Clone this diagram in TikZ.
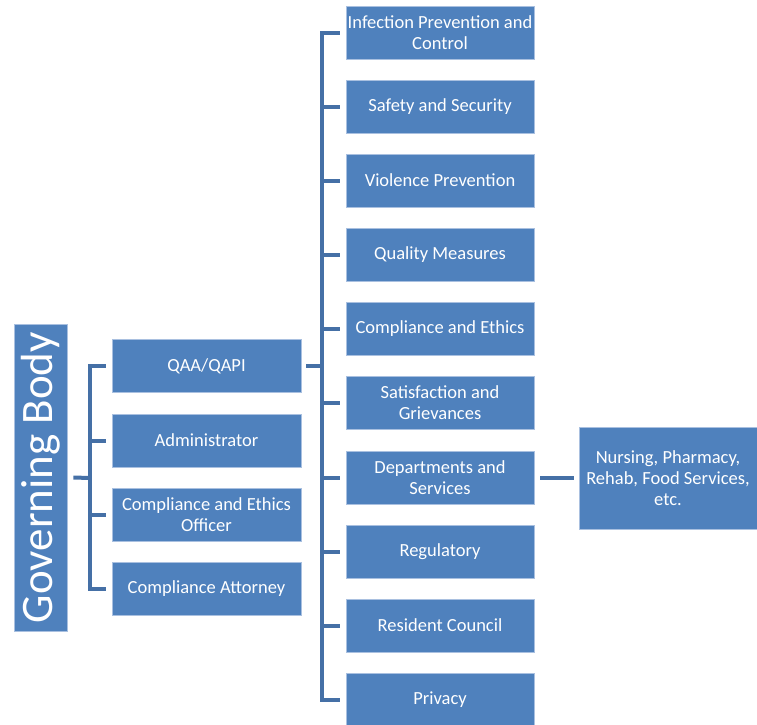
\documentclass[tikz,border=0pt]{standalone}
\usepackage{fontspec}
\setmainfont{Carlito}
\definecolor{boxfill}{HTML}{4F81BD}
\definecolor{boxline}{HTML}{A9C0E0}
\definecolor{connc}{HTML}{4570A6}
\tikzset{
  orgbox/.style={draw=boxline, line width=0.8pt, fill=boxfill, text=white, align=center,
    inner xsep=0pt, inner ysep=1pt, font=\fontsize{18.5}{21}\selectfont},
  leftbox/.style={orgbox, minimum width=189pt, minimum height=53pt},
  rightbox/.style={orgbox, minimum width=188pt, minimum height=53pt},
  conn/.style={draw=connc, line width=4pt, line join=miter}
}
\begin{document}
\begin{tikzpicture}[x=1pt,y=-1pt]
\useasboundingbox (0,0) rectangle (757,724);
% Governing body
\node[orgbox, minimum width=307pt, minimum height=53pt, inner sep=0pt, font=\fontsize{45}{50}\selectfont, rotate=90] (gb) at (40.5,477.5) {Governing Body};
% left column
\node[leftbox] (qaa) at (206.5,366) {QAA/QAPI};
\node[leftbox] (adm) at (206.5,440.5) {Administrator};
\node[leftbox] (ceo) at (206.5,514.5) {Compliance and Ethics\\Officer};
\node[leftbox] (att) at (206.5,589) {Compliance Attorney};
% right column
\node[rightbox] (r1) at (440,32.5) {\makebox[180pt][c]{Infection Prevention and}\\Control};
\node[rightbox] (r2) at (440,106.5) {Safety and Security};
\node[rightbox] (r3) at (440,180.5) {Violence Prevention};
\node[rightbox] (r4) at (440,255) {Quality Measures};
\node[rightbox] (r5) at (440,329) {Compliance and Ethics};
\node[rightbox] (r6) at (440,403) {Satisfaction and\\Grievances};
\node[rightbox] (r7) at (440,477.5) {Departments and\\Services};
\node[rightbox] (r8) at (440,551.5) {Regulatory};
\node[rightbox] (r9) at (440,625.5) {Resident Council};
\node[rightbox] (r10) at (440,699.5) {Privacy};
% nursing
\node[orgbox, minimum width=178pt, minimum height=102pt] (nur) at (668,478) {Nursing, Pharmacy,\\Rehab, Food Services,\\etc.};
% left bracket
\coordinate (lbus) at (90,478);
\draw[conn] ([xshift=6]gb.south) -- (lbus);
\draw[conn] ([xshift=-6]qaa.west) -- (lbus|-qaa.west) -- (lbus|-att.west) -- ([xshift=-6]att.west);
\draw[conn] (lbus|-adm.west) -- ([xshift=-6]adm.west);
\draw[conn] (lbus|-ceo.west) -- ([xshift=-6]ceo.west);
% right bracket
\coordinate (rbus) at (322,366);
\draw[conn] ([xshift=5]qaa.east) -- (rbus);
\draw[conn] ([xshift=-6]r1.west) -- (rbus|-r1.west) -- (rbus|-r10.west) -- ([xshift=-6]r10.west);
\foreach \n in {r2,r3,r4,r5,r6,r7,r8,r9}{
  \draw[conn] (rbus|-\n.west) -- ([xshift=-6]\n.west);
}
% to nursing
\draw[conn] ([xshift=6]r7.east) -- ([xshift=-5]nur.west|-r7.east);
\end{tikzpicture}
\end{document}
